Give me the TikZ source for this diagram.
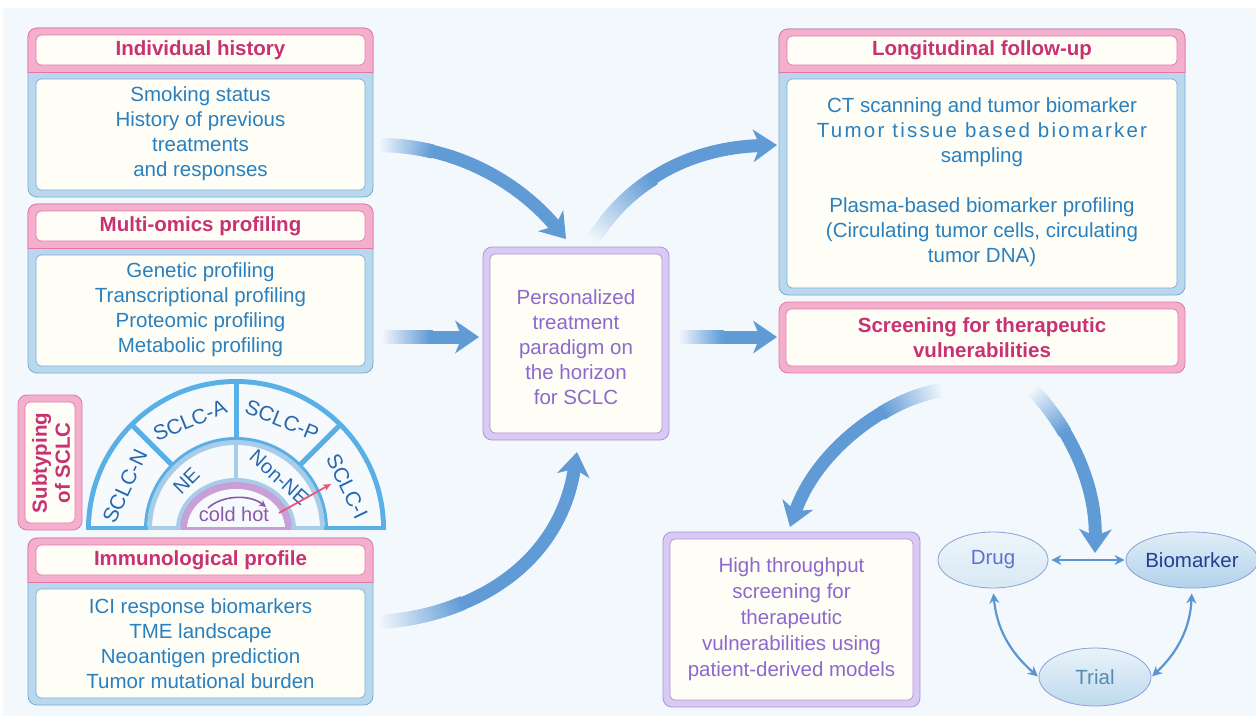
\documentclass[tikz,border=0pt]{standalone}
\usepackage{fontspec}
\setmainfont{Liberation Sans}
\usetikzlibrary{arrows.meta,decorations.markings,shapes.geometric,calc}
\definecolor{bgc}{RGB}{243,248,252}
\definecolor{arrblue}{RGB}{96,155,214}
\definecolor{thinblue}{RGB}{91,150,212}
\definecolor{bodyblue}{RGB}{42,128,190}
\definecolor{subblue}{RGB}{38,105,175}
\definecolor{titlemag}{RGB}{200,50,115}
\definecolor{purptext}{RGB}{140,105,205}
\definecolor{pinkfill}{RGB}{244,175,205}
\definecolor{pinkline}{RGB}{226,120,168}
\definecolor{bluefill}{RGB}{185,216,238}
\definecolor{blueline}{RGB}{120,172,214}
\definecolor{purpfill}{RGB}{216,202,242}
\definecolor{purpline}{RGB}{172,148,222}
\definecolor{innerw}{RGB}{254,254,247}
\definecolor{semiw}{RGB}{246,250,253}
\definecolor{skyb}{RGB}{88,176,230}
\definecolor{lightb}{RGB}{168,205,232}
\definecolor{ringp}{RGB}{200,160,215}
\definecolor{coldhot}{RGB}{138,90,170}
\definecolor{redarr}{RGB}{232,88,120}
\definecolor{ellline}{RGB}{140,160,214}
\definecolor{drugtxt}{RGB}{95,115,205}
\definecolor{biotxt}{RGB}{40,60,150}
\definecolor{trialtxt}{RGB}{85,140,175}

\newcommand\fadepiece[1]{%
  \pgfmathsetmacro\fp{min(100,100*\pgfkeysvalueof{/pgf/decoration/mark info/distance from start}/(#1*\pgfdecoratedpathlength))}%
  \fill[draw=none,fill=arrblue!\fp!bgc] (-1.7pt,-7pt) rectangle (1.7pt,7pt);}

\newcommand\twobox[5]{%
  \draw[draw=blueline, fill=bluefill, line width=0.8pt, rounded corners=9pt] (#1,#3) rectangle (#2,#5);
  \begin{scope}
    \clip (#1-2,#3-2) rectangle (#2+2,#4);
    \draw[draw=pinkline, fill=pinkfill, line width=0.8pt, rounded corners=9pt] (#1,#3) rectangle (#2,#5);
  \end{scope}
  \draw[pinkline, line width=0.8pt] (#1,#4) -- (#2,#4);
  \draw[draw=pinkline, fill=innerw, line width=0.7pt, rounded corners=5pt] (#1+8,#3+7) rectangle (#2-8,#4-7);
  \draw[draw=blueline, fill=innerw, line width=0.7pt, rounded corners=5pt] (#1+8,#4+7) rectangle (#2-8,#5-7);
}
\newcommand\onebox[6]{%
  \draw[draw=#2, fill=#1, line width=0.8pt, rounded corners=9pt] (#3,#4) rectangle (#5,#6);
  \draw[draw=#2, fill=innerw, line width=0.7pt, rounded corners=5pt] (#3+7,#4+7) rectangle (#5-7,#6-7);
}
\newcommand\semi[3]{\fill[#1] (-#2,0) arc[start angle=180,end angle=0,x radius=#2,y radius=#3] -- cycle;}

\begin{document}
\begin{tikzpicture}[x=1pt,y=-1pt,
  body/.style={font=\fontsize{20.5}{25}\selectfont, text=bodyblue, align=center, inner sep=0pt},
  ttl/.style={font=\fontsize{20.5}{25}\selectfont\bfseries, text=titlemag, align=center, inner sep=0pt},
  ptext/.style={font=\fontsize{20.5}{25.5}\selectfont, text=purptext, align=center, inner sep=0pt},
  sub/.style={font=\fontsize{21}{24}\selectfont, text=subblue, inner sep=0pt},
  ellbox/.style={ellipse, draw=ellline, line width=0.8pt, minimum width=#1, minimum height=56pt, inner sep=0pt, font=\fontsize{20.5}{24}\selectfont},
  bigarr/.style={draw=arrblue, line width=13pt,
    -{Stealth[length=24pt,width=33pt,inset=7pt,line width=0pt]},
    postaction={decorate, decoration={markings, mark=between positions 0 and #1 step 2pt with {\fadepiece{#1}}}}},
  thinarr/.style={draw=thinblue, line width=2.2pt, {Stealth[length=10pt,width=10pt]}-{Stealth[length=10pt,width=10pt]}},
]
\useasboundingbox (0,0) rectangle (1256,716);
\fill[white] (0,0) rectangle (1256,716);
\fill[bgc] (3,8) rectangle (1256,716);

% ---------- left boxes ----------
\twobox{28}{373}{28}{72}{197}
\node[ttl] (ihT) at (200.5,50) {Individual history};
\node[body] (ihB) at (200.5,134) {Smoking status\\History of previous\\treatments\\and responses};

\twobox{28}{373}{204}{248}{373}
\node[ttl] (moT) at (200.5,226) {Multi-omics profiling};
\node[body] (moB) at (200.5,310) {Genetic profiling\\Transcriptional profiling\\Proteomic profiling\\Metabolic profiling};

\twobox{28}{373}{538}{582}{705}
\node[ttl] (ipT) at (200.5,560) {Immunological profile};
\node[body] (ipB) at (200.5,644) {ICI response biomarkers\\TME landscape\\Neoantigen prediction\\Tumor mutational burden};

% ---------- subtyping ----------
\onebox{pinkfill}{pinkline}{18}{395}{82}{530}
\node[ttl, rotate=90, font=\fontsize{20.5}{23}\selectfont\bfseries] (subT) at (51,463) {Subtyping\\of SCLC};

\begin{scope}[shift={(236,529)}, y=1pt]
  \semi{skyb}{150}{150}
  \semi{semiw}{145}{145}
  \semi{skyb}{92}{92}
  \semi{lightb}{89}{89}
  \semi{semiw}{84}{84}
  \semi{lightb}{60}{51}
  \semi{ringp}{56}{47}
  \semi{semiw}{49}{40}
  \foreach \a in {45,90,135} \draw[skyb, line width=5pt] (\a:90) -- (\a:147);
  \draw[lightb, line width=4pt] (0,50) -- (0,87);
  \draw[skyb, line width=4pt] (-150,1.5) -- (-88,1.5) (88,1.5) -- (150,1.5);
  \draw[lightb, line width=4pt] (-88,1.5) -- (-55,1.5) (55,1.5) -- (88,1.5);
  \draw[ringp, line width=3pt] (-55,1) -- (55,1);
  \node[sub, rotate=65] (sN) at (159:119) {SCLC-N};
  \node[sub, rotate=22] (sA) at (113:118) {SCLC-A};
  \node[sub, rotate=-22] (sP) at (67:118) {SCLC-P};
  \node[sub, rotate=-64] (sI) at (21:119) {SCLC-I};
  \node[sub, font=\fontsize{20}{24}\selectfont, rotate=45] (ne) at (136:69) {NE};
  \node[sub, font=\fontsize{20}{24}\selectfont, rotate=-42] (nne) at (50:67) {Non-NE};
  \node[font=\fontsize{20}{24}\selectfont, text=coldhot, inner sep=0pt] (ch) at (-2,15) {cold hot};
  \coordinate (cA) at (-28,21);
  \coordinate (cB) at (30,22);
  \draw[coldhot, line width=1.6pt, -{Stealth[length=7pt,width=7pt]}] (cA) .. controls (-14,34) and (14,35) .. (cB);
  \coordinate (rA) at (43,16);
  \coordinate (rB) at (95,45);
  \draw[redarr, line width=1.8pt, -{Stealth[length=8pt,width=7pt]}] (rA) -- (rB);
\end{scope}

% ---------- centre ----------
\onebox{purpfill}{purpline}{483}{247}{669}{440}
\node[ptext, font=\fontsize{20.5}{25}\selectfont] (ctr) at (576,347) {Personalized\\treatment\\paradigm on\\the horizon\\for SCLC};

% ---------- right ----------
\twobox{779}{1185}{29}{72}{295}
\node[ttl] (lfT) at (982,50) {Longitudinal follow-up};
\node[body] (lfB) at (982,182) {CT scanning and tumor biomarker\\{\addfontfeature{LetterSpace=11}Tumor tissue based biomarker}\\sampling\\[25pt]Plasma-based biomarker profiling\\(Circulating tumor cells, circulating\\tumor DNA)};

\onebox{pinkfill}{pinkline}{779}{302}{1185}{373}
\node[ttl] (scT) at (982,337.5) {Screening for therapeutic\\vulnerabilities};

\onebox{purpfill}{purpline}{663}{532}{920}{707}
\node[ptext, font=\fontsize{20.5}{26}\selectfont] (ht) at (791.5,619) {High throughput\\screening for\\therapeutic\\vulnerabilities using\\patient-derived models};

% ---------- ellipses ----------
\node[ellbox=110pt, top color=white!80!lightb, bottom color=lightb!45!white, text=drugtxt] (drug) at (993,560) {Drug};
\node[ellbox=108pt, top color=lightb!35!white, bottom color=lightb!90!white, text=biotxt] (bio) at (1192,560) {Biomarker};
\node[ellbox=112pt, minimum height=58pt, top color=lightb!25!white, bottom color=lightb!75!white, text=trialtxt] (trial) at (1095,677) {Trial};
\draw[thinarr, shorten <=3pt, shorten >=1pt] (drug.east) -- (bio.west);
\draw[thinarr, shorten <=5pt, shorten >=1pt] (drug.south) to[bend right=22] (trial.west);
\draw[thinarr, shorten <=5pt, shorten >=1pt] (bio.south) to[bend left=22] (trial.east);

% ---------- big arrows ----------
\coordinate (a1s) at (380,145); \coordinate (a1e) at (566,239);
\coordinate (a2s) at (383,337); \coordinate (a2e) at (479,337);
\coordinate (a3s) at (380,622); \coordinate (a3e) at (577,452);
\coordinate (a4s) at (593,240); \coordinate (a4e) at (777,145);
\coordinate (a5s) at (680,337); \coordinate (a5e) at (777,337);
\coordinate (a6s) at (942,390); \coordinate (a6e) at (790,527);
\coordinate (a7s) at (1033,390); \coordinate (a7e) at (1095,553);
\draw[bigarr=0.25] (a1s) .. controls (465,146) and (525,190) .. (a1e);
\draw[bigarr=0.5] (a2s) -- (a2e);
\draw[bigarr=0.3] (a3s) .. controls (480,615) and (560,560) .. (a3e);
\draw[bigarr=0.4] (a4s) .. controls (630,180) and (690,148) .. (a4e);
\draw[bigarr=0.45] (a5s) -- (a5e);
\draw[bigarr=0.3] (a6s) .. controls (880,400) and (815,455) .. (a6e);
\draw[bigarr=0.3] (a7s) .. controls (1075,435) and (1096,490) .. (a7e);
\end{tikzpicture}
\end{document}
